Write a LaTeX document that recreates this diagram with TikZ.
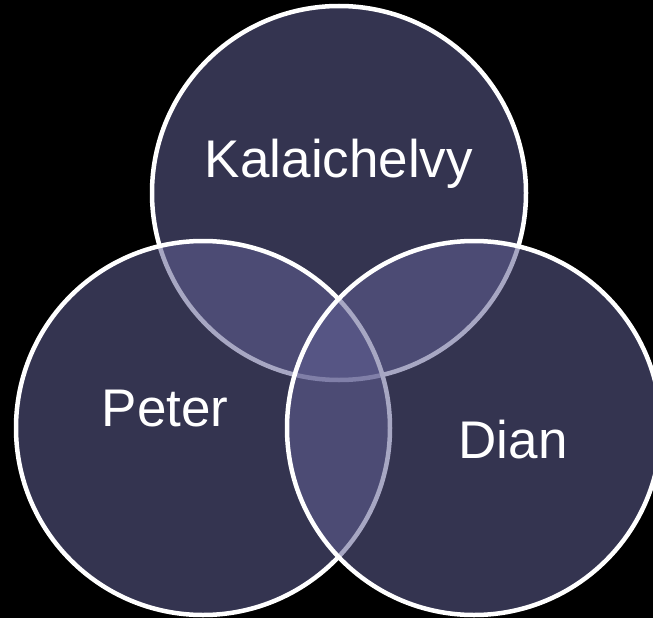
\documentclass[tikz,border=0pt]{standalone}
\usepackage{fontspec}
\setmainfont{Liberation Sans}
\definecolor{vennblue}{RGB}{96,95,146}
\tikzset{
  venn/.style={draw=white, line width=4.5pt, fill=vennblue, fill opacity=0.55},
  personlabel/.style={text=white, anchor=base, font=\fontsize{53}{60}\selectfont}
}
\begin{document}
\begin{tikzpicture}[x=1pt,y=-1pt]
    \fill[black] (0,0) rectangle (653,618);
    \useasboundingbox (0,0) rectangle (653,618);

    \coordinate (ctop) at (339,193);
    \coordinate (cleft) at (203,428);
    \coordinate (cright) at (474,428);

    \draw[venn] (ctop) circle[radius=187];
    \draw[venn] (cleft) circle[radius=187];
    \draw[venn] (cright) circle[radius=187];

    \node[personlabel] (kalaichelvy) at (339,177) {Kalaichelvy};
    \node[personlabel] (peter) at (165,426) {Peter};
    \node[personlabel] (dian) at (513,458) {Dian};
\end{tikzpicture}
\end{document}
